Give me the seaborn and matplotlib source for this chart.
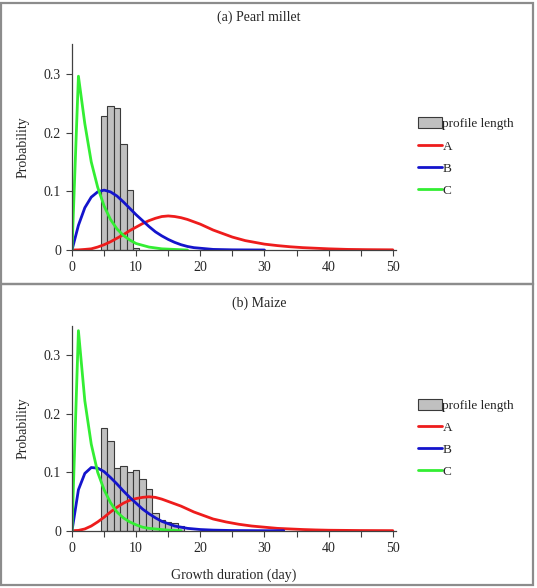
import numpy as np
import pandas as pd
import matplotlib
matplotlib.use("Agg")
import matplotlib.pyplot as plt
from matplotlib.patches import Rectangle
from matplotlib.ticker import MultipleLocator
import seaborn as sns

# ---- data ----
# observed profile lengths (histogram, probability per day)
pm_hist_days = [5, 6, 7, 8, 9, 10]
pm_hist_prob = [0.229, 0.245, 0.241, 0.180, 0.103, 0.004]
mz_hist_days = [5, 6, 7, 8, 9, 10, 11, 12, 13, 14, 15, 16, 17]
mz_hist_prob = [0.175, 0.154, 0.107, 0.110, 0.100, 0.103, 0.089, 0.072,
                0.031, 0.019, 0.015, 0.0125, 0.008]

# (a) Pearl millet curves
pm_a_x = [0, 1, 2, 3, 4, 5, 6, 7, 8, 9, 10, 11, 12, 13, 14, 15, 16, 17, 18, 19,
          20, 21, 22, 23, 24, 25, 26, 27, 28, 29, 30, 32, 34, 36, 38, 40, 43, 46, 50]
pm_a_y = [0, 0.0002, 0.001, 0.002, 0.005, 0.009, 0.014, 0.020, 0.026, 0.033,
          0.039, 0.045, 0.050, 0.054, 0.057, 0.058, 0.057, 0.055, 0.052, 0.048,
          0.044, 0.039, 0.034, 0.030, 0.026, 0.022, 0.019, 0.016, 0.014, 0.012,
          0.010, 0.0075, 0.0055, 0.004, 0.003, 0.002, 0.001, 0.0006, 0.0003]
pm_b_x = [0, 1, 2, 3, 4, 5, 6, 7, 8, 9, 10, 11, 12, 13, 14, 15, 16, 17, 18, 19,
          20, 22, 25, 30]
pm_b_y = [0, 0.042, 0.072, 0.090, 0.099, 0.102, 0.099, 0.092, 0.082, 0.071,
          0.060, 0.050, 0.040, 0.031, 0.024, 0.018, 0.013, 0.009, 0.006, 0.004,
          0.003, 0.001, 0.0003, 0]
pm_c_x = [0, 1, 2, 3, 4, 5, 6, 7, 8, 9, 10, 12, 14, 16, 18]
pm_c_y = [0, 0.296, 0.215, 0.150, 0.107, 0.075, 0.052, 0.036, 0.025, 0.017,
          0.011, 0.005, 0.002, 0.001, 0]

# (b) Maize curves
mz_a_x = [0, 1, 2, 3, 4, 5, 6, 7, 8, 9, 10, 11, 12, 13, 14, 15, 16, 17, 18, 19,
          20, 21, 22, 24, 26, 28, 30, 32, 34, 36, 38, 40, 45, 50]
mz_a_y = [0, 0.0005, 0.003, 0.008, 0.015, 0.023, 0.032, 0.040, 0.047, 0.052,
          0.055, 0.057, 0.058, 0.057, 0.054, 0.050, 0.046, 0.042, 0.037, 0.032,
          0.028, 0.024, 0.020, 0.015, 0.011, 0.008, 0.006, 0.004, 0.003, 0.002,
          0.0013, 0.0008, 0.0003, 0.0001]
mz_b_x = [0, 1, 2, 3, 4, 5, 6, 7, 8, 9, 10, 11, 12, 13, 14, 15, 16, 17, 18, 19,
          20, 22, 25, 30, 33]
mz_b_y = [0, 0.070, 0.098, 0.108, 0.107, 0.101, 0.091, 0.080, 0.068, 0.057,
          0.047, 0.037, 0.029, 0.022, 0.016, 0.012, 0.008, 0.006, 0.004, 0.003,
          0.002, 0.001, 0.0003, 0, 0]
mz_c_x = [0, 1, 2, 3, 4, 5, 6, 7, 8, 9, 10, 11, 12, 13, 14, 15, 17]
mz_c_y = [0, 0.342, 0.222, 0.148, 0.100, 0.070, 0.048, 0.032, 0.022, 0.015,
          0.010, 0.006, 0.004, 0.003, 0.002, 0.001, 0]

titles = ["(a) Pearl millet", "(b) Maize"]

# ---- style ----
sns.set_theme(style="white")
plt.rcParams['font.family'] = ['Liberation Serif', 'DejaVu Serif']
plt.rcParams['font.size'] = 10

W, H = 537, 588
fig = plt.figure(figsize=(W / 100, H / 100), dpi=100)

def px(x0, y0, x1, y1):
    # pixel box (top-left origin) -> figure fraction [l, b, w, h]
    return [x0 / W, 1 - y1 / H, (x1 - x0) / W, (y1 - y0) / H]

# panel frames
for (y0, y1) in [(3, 284), (284, 585)]:
    l, b, w, h = px(1, y0, 533, y1)
    fig.add_artist(Rectangle((l, b), w, h, transform=fig.transFigure,
                             fill=False, edgecolor='#8c8c8c', linewidth=1.6))

ax_top = fig.add_axes(px(72, 44.5, 396, 250))
ax_bot = fig.add_axes(px(72, 326, 396, 530.7))

panels = [
    (ax_top, pm_hist_days, pm_hist_prob, (pm_a_x, pm_a_y), (pm_b_x, pm_b_y), (pm_c_x, pm_c_y)),
    (ax_bot, mz_hist_days, mz_hist_prob, (mz_a_x, mz_a_y), (mz_b_x, mz_b_y), (mz_c_x, mz_c_y)),
]

for i, (ax, hd, hp, a, b, c) in enumerate(panels):
    sns.histplot(x=hd, weights=hp, discrete=True, ax=ax, color='#c0c0c0',
                 edgecolor='#3a3a3a', linewidth=0.8, alpha=1, label='profile length')
    sns.lineplot(x=a[0], y=a[1], ax=ax, color='#ee1c1c', linewidth=2, label='A')
    sns.lineplot(x=b[0], y=b[1], ax=ax, color='#1414cc', linewidth=2, label='B')
    sns.lineplot(x=c[0], y=c[1], ax=ax, color='#33ee33', linewidth=2, label='C')

    ax.set_xlim(0, 50.5)
    ax.set_ylim(0, 0.35)
    ax.xaxis.set_major_locator(MultipleLocator(10))
    ax.xaxis.set_minor_locator(MultipleLocator(5))
    ax.set_yticks([0, 0.1, 0.2, 0.3])
    ax.set_yticklabels(['0', '0.1', '0.2', '0.3'])
    ax.tick_params(axis='both', which='both', direction='out', length=4,
                   width=0.8, color='#404040', labelsize=10, pad=4,
                   bottom=True, left=True)
    for s in ['top', 'right']:
        ax.spines[s].set_visible(False)
    for s in ['left', 'bottom']:
        ax.spines[s].set_color('#404040')
        ax.spines[s].set_linewidth(0.9)
    ax.set_ylabel('Probability', fontsize=10, labelpad=10)
    ax.set_xlabel('Growth duration (day)' if i == 1 else '', fontsize=10, labelpad=10)
    ax.patch.set_alpha(0)

    handles, labels = ax.get_legend_handles_labels()
    order = [labels.index(n) for n in ['profile length', 'A', 'B', 'C']]
    ax.legend([handles[k] for k in order], [labels[k] for k in order],
              loc='upper left', frameon=False, fontsize=9.5,
              bbox_to_anchor=(346 / 324, 0.645),
              handlelength=1.8, handleheight=0.9, handletextpad=0.05,
              labelspacing=0.69, borderaxespad=0, borderpad=0)

fig.text(259 / W, 1 - 17 / H, titles[0], ha='center', va='center', fontsize=10)
fig.text(259 / W, 1 - 303 / H, titles[1], ha='center', va='center', fontsize=10)

fig.savefig('out.png', dpi=100)
